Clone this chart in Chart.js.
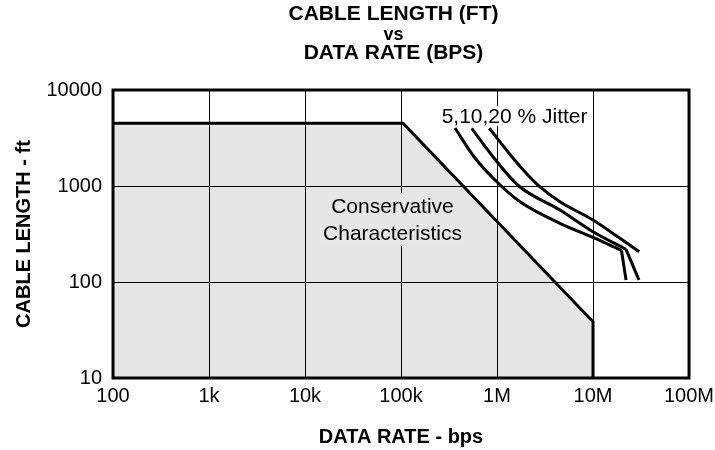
<!DOCTYPE html>
<html>
<head>
<meta charset="utf-8">
<script src="https://cdn.jsdelivr.net/npm/chart.js@4.4.1/dist/chart.umd.min.js"></script>
<style>
  html, body { margin: 0; padding: 0; background: #fff; }
  #wrap { width: 715px; height: 450px; }
</style>
</head>
<body>
<div id="wrap"><canvas id="chart"></canvas></div>
<script>
// axis ticks
const rateTicks = [1e2, 1e3, 1e4, 1e5, 1e6, 1e7, 1e8];
const rateLabels = ['100', '1k', '10k', '100k', '1M', '10M', '100M'];
const lengthTicks = [10, 100, 1000, 10000];
const lengthLabels = ['10', '100', '1000', '10000'];

// shaded "conservative" region outline
const consRate = [100, 105000, 1e7, 1e7];
const consLength = [4500, 4500, 38.5, 10];

// jitter curves, smooth part then the drop at the end
const jit5Rate = [3.65e5, 5.76e5, 1.0e6, 1.74e6, 4.53e6, 1e7, 1.98e7];
const jit5Length = [4018, 2018, 1101, 685, 408, 291, 213];
const jit5TailRate = [1.98e7, 2.21e7];
const jit5TailLength = [213, 105];

const jit10Rate = [5.45e5, 9.08e5, 1.69e6, 4.53e6, 1e7, 2.21e7];
const jit10Length = [3990, 2018, 1000, 562, 334, 219];
const jit10TailRate = [2.21e7, 3.01e7];
const jit10TailLength = [219, 105];

const jit20Rate = [8.32e5, 1.43e6, 2.05e6, 2.67e6, 4.53e6, 1e7, 1.91e7, 3.03e7];
const jit20Length = [3990, 2018, 1334, 1024, 685, 442, 285, 207];

const FAMILY = '"Liberation Sans", Arial, Helvetica, sans-serif';
Chart.defaults.font.family = FAMILY;
Chart.defaults.color = '#000';

const pts = (xs, ys) => xs.map((x, i) => ({ x, y: ys[i] }));

const curve = (xs, ys, smooth) => ({
    data: pts(xs, ys),
    borderColor: '#000',
    borderWidth: 3,
    pointRadius: 0,
    fill: false,
    cubicInterpolationMode: smooth ? 'monotone' : 'default',
    tension: smooth ? 0.4 : 0
});

// texts, frame and heading
const decor = {
    id: 'decor',
    afterDatasetsDraw(chart) {
        const { ctx, scales: { x, y } } = chart;
        ctx.save();
        ctx.font = '21px ' + FAMILY;

        // label inside the shaded area
        const cx = x.getPixelForValue(8.15e4);
        const by = y.getPixelForValue(524);
        ctx.fillStyle = '#e6e6e6';
        ctx.fillRect(cx - 73, by - 20, 146, 53);
        ctx.fillStyle = '#000';
        ctx.textAlign = 'center';
        ctx.textBaseline = 'alphabetic';
        ctx.fillText('Conservative', cx, by);
        ctx.fillText('Characteristics', cx, by + 27);

        // jitter label
        const jx = x.getPixelForValue(2.65e5);
        const jy = y.getPixelForValue(4560);
        ctx.textAlign = 'left';
        const w = ctx.measureText('5,10,20 % Jitter').width;
        ctx.fillStyle = '#fff';
        ctx.fillRect(jx - 3, jy - 17, w + 7, 20);
        ctx.fillStyle = '#000';
        ctx.fillText('5,10,20 % Jitter', jx, jy);
        ctx.restore();
    },
    afterDraw(chart) {
        const { ctx, chartArea: a } = chart;
        ctx.save();
        ctx.strokeStyle = '#000';
        ctx.lineWidth = 3;
        ctx.strokeRect(a.left, a.top, a.right - a.left, a.bottom - a.top);

        ctx.fillStyle = '#000';
        ctx.textAlign = 'center';
        ctx.textBaseline = 'alphabetic';
        ctx.font = 'bold 21px ' + FAMILY;
        ctx.fillText('CABLE LENGTH (FT)', 393.5, 20);
        ctx.font = 'bold 18px ' + FAMILY;
        ctx.fillText('vs', 393.5, 40);
        ctx.font = 'bold 21px ' + FAMILY;
        ctx.fillText('DATA RATE (BPS)', 393.5, 59);
        ctx.restore();
    }
};

new Chart(document.getElementById('chart'), {
    type: 'line',
    data: {
        datasets: [
            {
                data: pts(consRate, consLength),
                borderColor: '#000',
                borderWidth: 3,
                borderJoinStyle: 'miter',
                backgroundColor: 'rgba(0,0,0,0.1)',
                pointRadius: 0,
                fill: 'start',
                tension: 0
            },
            curve(jit5Rate, jit5Length, true),
            curve(jit5TailRate, jit5TailLength, false),
            curve(jit10Rate, jit10Length, true),
            curve(jit10TailRate, jit10TailLength, false),
            curve(jit20Rate, jit20Length, true)
        ]
    },
    options: {
        responsive: true,
        maintainAspectRatio: false,
        animation: false,
        layout: { padding: { top: 90, right: 26, bottom: 0, left: 0 } },
        plugins: {
            legend: { display: false },
            tooltip: { enabled: false },
            title: { display: false }
        },
        scales: {
            x: {
                type: 'logarithmic',
                position: 'bottom',
                min: 100,
                max: 1e8,
                afterBuildTicks: s => { s.ticks = rateTicks.map(v => ({ value: v })); },
                afterFit: s => { s.height = 72; s.paddingLeft = 0; s.paddingRight = 0; },
                ticks: {
                    callback: (v, i) => rateLabels[i],
                    font: { size: 20 },
                    color: '#000',
                    padding: 6,
                    maxRotation: 0,
                    autoSkip: false
                },
                grid: { color: '#000', lineWidth: 1, drawTicks: false },
                border: { display: false },
                title: {
                    display: true,
                    text: 'DATA RATE - bps',
                    font: { size: 20, weight: 'bold' },
                    color: '#000',
                    padding: { top: 0, bottom: 1 }
                }
            },
            y: {
                type: 'logarithmic',
                min: 10,
                max: 10000,
                afterBuildTicks: s => { s.ticks = lengthTicks.map(v => ({ value: v })); },
                afterFit: s => { s.width = 113; },
                ticks: {
                    callback: (v, i) => lengthLabels[i],
                    font: { size: 20 },
                    color: '#000',
                    padding: 11,
                    autoSkip: false
                },
                grid: { color: '#000', lineWidth: 1, drawTicks: false },
                border: { display: false },
                title: {
                    display: true,
                    text: 'CABLE LENGTH - ft',
                    font: { size: 20, weight: 'bold' },
                    color: '#000',
                    padding: { top: 12, bottom: 0 }
                }
            }
        }
    },
    plugins: [decor]
});
</script>
</body>
</html>
